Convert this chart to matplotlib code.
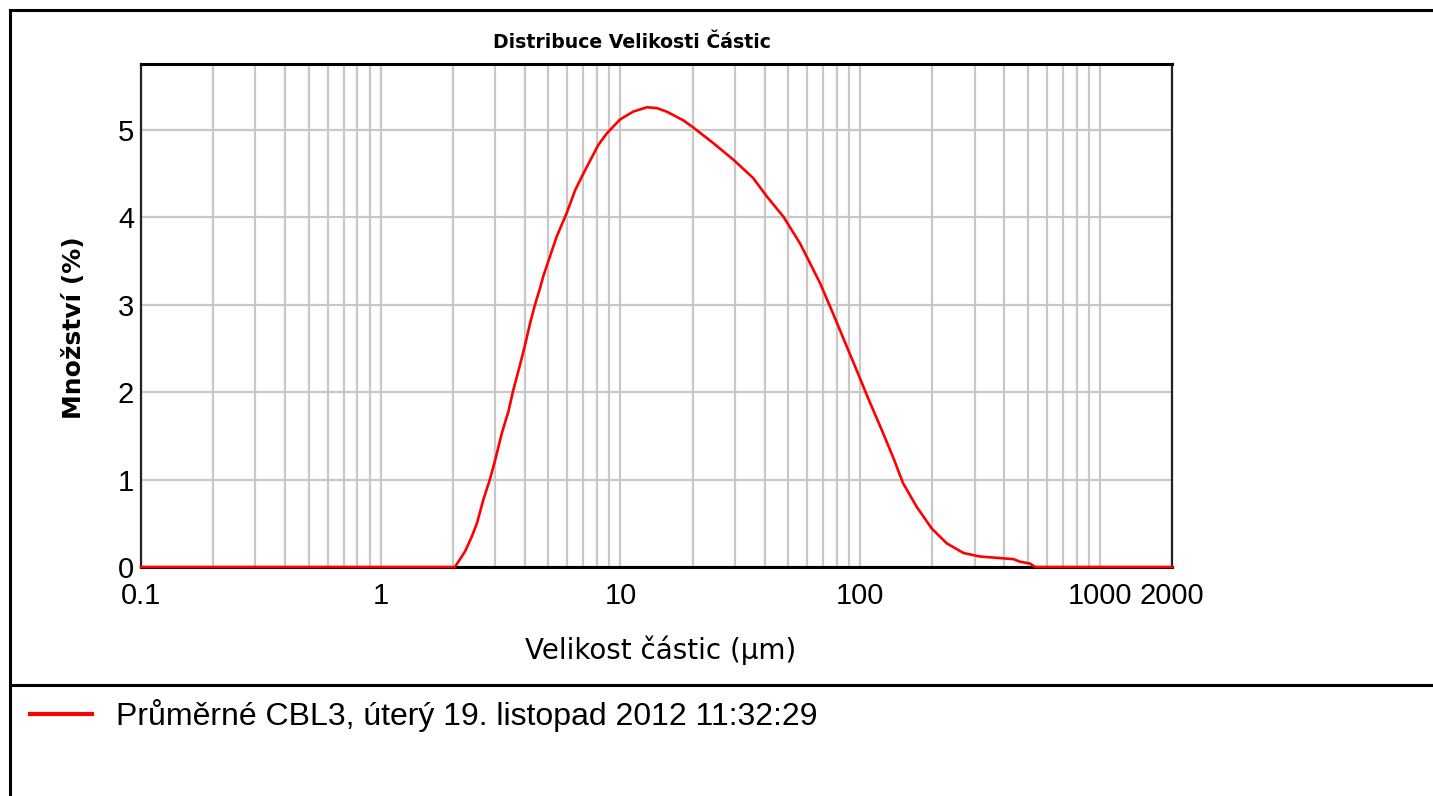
"""
Distribuce velikosti castic - recreated chart
"""
import numpy as np
import matplotlib
matplotlib.use('Agg')
import matplotlib.pyplot as plt
from matplotlib.lines import Line2D
from matplotlib.ticker import FixedLocator, LogLocator, NullFormatter

### Data
size_um = [0.1, 2.04, 2.25, 2.40, 2.52, 2.68, 2.86, 3.00, 3.20, 3.41, 3.57,
           3.81, 4.00, 4.20, 4.40, 4.62, 4.77, 5.42, 5.97, 6.47, 7.00, 8.09,
           8.77, 9.96, 11.3, 12.9, 14.2, 15.6, 18.3, 20.1, 24.4, 29.6, 35.8,
           40.8, 47.8, 56.2, 68.0, 77.1, 86.5, 97.1, 108, 123, 138, 151, 172,
           199, 230, 270, 316, 436, 465, 511, 537, 2000]
amount_pct = [0.0, 0.0, 0.18, 0.35, 0.50, 0.77, 1.01, 1.22, 1.53, 1.78, 2.02,
              2.31, 2.54, 2.79, 3.00, 3.19, 3.33, 3.78, 4.05, 4.31, 4.50, 4.83,
              4.96, 5.12, 5.21, 5.26, 5.25, 5.21, 5.11, 5.03, 4.85, 4.66, 4.45,
              4.24, 4.01, 3.70, 3.25, 2.90, 2.57, 2.24, 1.93, 1.57, 1.24, 0.96,
              0.69, 0.44, 0.27, 0.16, 0.12, 0.09, 0.06, 0.04, 0.0, 0.0]

x_ticks = [0.1, 1, 10, 100, 1000, 2000]
x_ticklabels = ['0.1', '1', '10', '100', '1000', '2000']
y_ticks = [0, 1, 2, 3, 4, 5]

title = 'Distribuce Velikosti Částic'
xlabel = 'Velikost částic (µm)'
ylabel = 'Množství (%)'
series_name = 'Průměrné CBL3, úterý 19. listopad 2012 11:32:29'

narrow = ['Liberation Sans', 'DejaVu Sans']


def main():
    W, H = 1433, 796
    fig = plt.figure(figsize=(W/100, H/100), dpi=100)
    fig.patch.set_facecolor('white')

    ax = fig.add_axes([141/W, 1-567/H, (1172-141)/W, (567-64)/H])
    ax.plot(size_um, amount_pct, color='#ff0000', lw=1.9, zorder=5,
            clip_on=False, label=series_name)

    ax.set_xscale('log')
    ax.set_xlim(0.1, 2000)
    ax.set_ylim(0, 5.755)
    ax.xaxis.set_major_locator(FixedLocator(x_ticks))
    ax.set_xticklabels(x_ticklabels)
    ax.xaxis.set_minor_locator(LogLocator(base=10, subs=np.arange(2, 10)))
    ax.xaxis.set_minor_formatter(NullFormatter())
    ax.yaxis.set_major_locator(FixedLocator(y_ticks))

    ax.grid(which='both', color='#c8c8c8', lw=1.6, zorder=0)
    ax.set_axisbelow(True)
    ax.tick_params(axis='both', which='both', length=0)
    ax.tick_params(axis='x', pad=11)
    ax.tick_params(axis='y', pad=5)
    for lab in ax.get_xticklabels() + ax.get_yticklabels():
        lab.set_family(narrow)
        lab.set_fontsize(21)

    for side in ['top', 'bottom']:
        ax.spines[side].set_linewidth(2.2)
        ax.spines[side].set_color('black')
    for side in ['left', 'right']:
        ax.spines[side].set_linewidth(1.6)
        ax.spines[side].set_color('#222222')

    ### Texts
    fig.text(632/W, 1-43/H, title, ha='center', va='center',
             fontsize=13.6, fontweight='bold', family='DejaVu Sans')
    fig.text(74/W, 1-328/H, ylabel, ha='center', va='center', rotation=90,
             fontsize=18, fontweight='bold', family='DejaVu Sans')
    fig.text(661/W, 1-650/H, xlabel, ha='center', va='center',
             fontsize=20, family='DejaVu Sans')

    ### Outer frame lines
    lw = 2.2
    fig.add_artist(Line2D([10/W, 1], [1-10/H, 1-10/H], color='black', lw=lw))
    fig.add_artist(Line2D([10/W, 10/W], [1-10/H, 0], color='black', lw=lw))
    fig.add_artist(Line2D([10/W, 1], [1-685/H, 1-685/H], color='black', lw=lw))

    ### Legend
    leg = ax.legend(loc='center left', bbox_to_anchor=(30/W, 1-716/H),
                    bbox_transform=fig.transFigure, frameon=False,
                    borderpad=0, borderaxespad=0, handlelength=1.95,
                    handletextpad=0.75, prop={'family': narrow, 'size': 23})
    for h in leg.legend_handles:
        h.set_linewidth(3)

    fig.savefig('out.png', dpi=100)


if __name__ == '__main__':
    main()
